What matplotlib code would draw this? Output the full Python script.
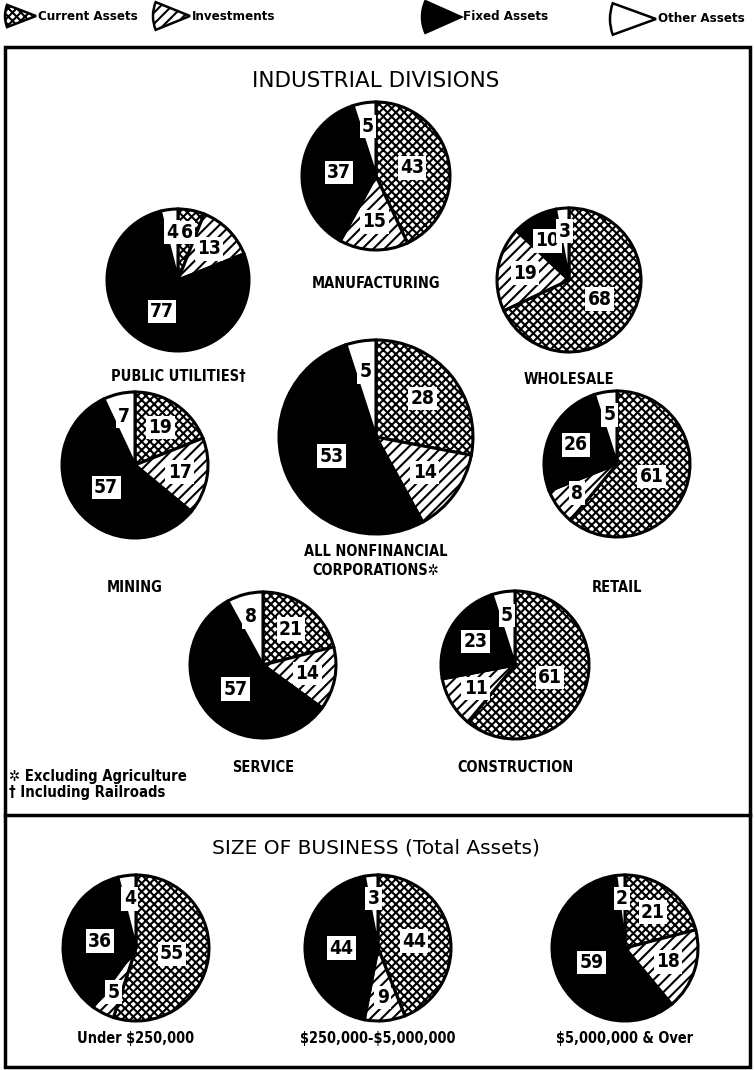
import matplotlib
matplotlib.use("Agg")
import matplotlib.pyplot as plt
from matplotlib import font_manager as fm
from matplotlib.patches import Wedge, Rectangle
import numpy as np

plt.rcParams['hatch.linewidth'] = 1.5
plt.rcParams['text.parse_math'] = False

# pick a condensed bold face if one is installed
_names = {f.name for f in fm.fontManager.ttflist}
_dv_cond = any(f.name == "DejaVu Sans" and str(f.stretch) in ("condensed", "semi-condensed")
               for f in fm.fontManager.ttflist)
if "Liberation Sans Narrow" in _names:
    NARROW = dict(family=["Liberation Sans Narrow", "DejaVu Sans"], fontstretch="normal")
    SC = 1.0
elif _dv_cond:
    NARROW = dict(family=["DejaVu Sans"], fontstretch="condensed")
    SC = 0.95
else:
    NARROW = dict(family=["Liberation Sans", "DejaVu Sans"], fontstretch="normal")
    SC = 0.88

W, H = 755, 1070

# ---------------- data ----------------
categories = ["Current Assets", "Investments", "Fixed Assets", "Other Assets"]

industry_names = ["MANUFACTURING", "PUBLIC UTILITIES\u2020", "WHOLESALE",
                  "ALL NONFINANCIAL\nCORPORATIONS\u2732", "MINING", "RETAIL",
                  "SERVICE", "CONSTRUCTION"]
manufacturing = [43, 15, 37, 5]
public_utilities = [6, 13, 77, 4]
wholesale = [68, 19, 10, 3]
all_nonfinancial = [28, 14, 53, 5]
mining = [19, 17, 57, 7]
retail = [61, 8, 26, 5]
service = [21, 14, 57, 8]
construction = [61, 11, 23, 5]

size_names = ["Under $250,000", "$250,000-$5,000,000", "$5,000,000 & Over"]
under_250k = [55, 5, 36, 4]
mid_250k_5m = [44, 9, 44, 3]
over_5m = [21, 18, 59, 2]

footnotes = ["\u2732 Excluding Agriculture", "\u2020 Including Railroads"]

# ---------------- styles ----------------
face = ["white", "white", "black", "white"]
hatches = ["xxxx", "///", None, None]

fig = plt.figure(figsize=(W / 100, H / 100), dpi=100)
ax = fig.add_axes([0, 0, 1, 1])


def Y(y):
    return H - y


def draw_pie(vals, cx, cy, r, name, name_dy, name_size=11):
    wedges, _ = ax.pie(vals, center=(cx, Y(cy)), radius=r, startangle=90,
                       counterclock=False, colors=face, hatch=hatches,
                       wedgeprops=dict(edgecolor="black", linewidth=2.2),
                       frame=True)
    total = float(sum(vals))
    for w, v in zip(wedges, vals):
        frac = v / total
        if frac > 0.3:
            d = 0.5
        elif frac > 0.09:
            d = 0.62
        else:
            d = 0.68
        th = np.deg2rad((w.theta1 + w.theta2) / 2)
        x = cx + d * r * np.cos(th)
        y = Y(cy) + d * r * np.sin(th)
        ax.text(x, y, str(v), ha="center", va="center", fontsize=14.5 * SC,
                fontweight="bold", color="black",
                bbox=dict(boxstyle="square,pad=0.12", fc="white", ec="none"),
                **NARROW)
    ax.text(cx, Y(cy + r + name_dy), name, ha="center", va="center",
            fontsize=name_size * SC, fontweight="bold", linespacing=1.3,
            **NARROW)


# ---------------- legend ----------------
leg_items = [(36, 16, 31, 21), (190, 16, 37, 22), (461, 17, 39, 24),
             (656, 19, 46, 20)]
for (tx, ty, r, half), cat, fc, hc in zip(leg_items, categories, face, hatches):
    wdg = Wedge((tx, Y(ty)), r, 180 - half, 180 + half, facecolor=fc,
                edgecolor="black", hatch=hc, linewidth=1.8)
    ax.add_patch(wdg)
    ax.text(tx + 2, Y(ty), cat, ha="left", va="center", fontsize=10 * SC,
            fontweight="bold", **NARROW)

# ---------------- frames ----------------
ax.add_patch(Rectangle((5, Y(1067)), 745, 1067 - 47, fill=False,
                       edgecolor="black", linewidth=2.5))
ax.plot([5, 750], [Y(815), Y(815)], color="black", linewidth=2.5)

# ---------------- titles ----------------
ax.text(376, Y(81), "INDUSTRIAL DIVISIONS", ha="center", va="center",
        fontsize=15.5, family="DejaVu Sans")
ax.text(376, Y(848), "SIZE OF BUSINESS (Total Assets)", ha="center",
        va="center", fontsize=14.5, family="DejaVu Sans")

# ---------------- industrial pies ----------------
draw_pie(manufacturing, 376, 176, 74, industry_names[0], 33)
draw_pie(public_utilities, 178, 280, 71, industry_names[1], 26)
draw_pie(wholesale, 569, 280, 72, industry_names[2], 28)
draw_pie(all_nonfinancial, 376, 437, 97, industry_names[3], 27)
draw_pie(mining, 135, 465, 73, industry_names[4], 49)
draw_pie(retail, 617, 464, 73, industry_names[5], 50)
draw_pie(service, 263, 665, 73, industry_names[6], 29)
draw_pie(construction, 515, 665, 74, industry_names[7], 28)

for i, t in enumerate(footnotes):
    ax.text(9, Y(777 + 16 * i), t, ha="left", va="center", fontsize=11.2 * SC,
            fontweight="bold", **NARROW)

# ---------------- size pies ----------------
draw_pie(under_250k, 136, 948, 73, size_names[0], 17)
draw_pie(mid_250k_5m, 378, 948, 73, size_names[1], 17)
draw_pie(over_5m, 625, 948, 73, size_names[2], 17)

ax.set_xlim(0, W)
ax.set_ylim(0, H)
ax.set_aspect("equal")
ax.axis("off")

fig.savefig("out.png", dpi=100, facecolor="white")
